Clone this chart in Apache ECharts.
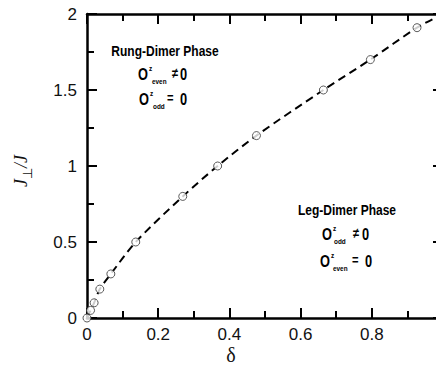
<!DOCTYPE html>
<html>
<head>
<meta charset="utf-8">
<script src="https://cdn.jsdelivr.net/npm/echarts@6/dist/echarts.min.js"></script>
<style>
html,body{margin:0;padding:0;overflow:hidden;background:#fff;width:436px;height:371px;}
#c{width:460px;height:371px;}
</style>
</head>
<body>
<div id="c"></div>
<script>
// data
var deltaValues = [0, 0.01, 0.02, 0.036, 0.067, 0.137, 0.269, 0.367, 0.476, 0.664, 0.796, 0.927];
var jRatioValues = [0, 0.05, 0.1, 0.19, 0.29, 0.5, 0.8, 1.0, 1.2, 1.5, 1.7, 1.91];
// dashed fit curve (through the points, extended to the right edge)
var fitDelta = [0, 0.01, 0.02, 0.036, 0.067, 0.137, 0.269, 0.367, 0.476, 0.664, 0.796, 0.927, 1.0];
var fitJ = [0, 0.05, 0.1, 0.19, 0.29, 0.5, 0.8, 1.0, 1.2, 1.5, 1.7, 1.91, 2.0];
var xTicks = [0, 0.2, 0.4, 0.6, 0.8, 1.0];
var yTicks = [0, 0.5, 1, 1.5, 2];

var pts = deltaValues.map(function(d,i){return [d, jRatioValues[i]];});
var fit = fitDelta.map(function(d,i){return [d, fitJ[i]];});

var axisFont = {fontFamily:'Liberation Sans', fontSize:17, color:'#111'};
var bold = 'Liberation Sans';
var SX = 0.8;

function baseX(pos, labels){
  return {
    type:'value', position:pos, min:xTicks[0], max:xTicks[xTicks.length-1], interval:0.2,
    axisLine:{show:true, onZero:false, lineStyle:{color:'#000', width:2.5}},
    axisTick:{show:true, inside:true, length:10, lineStyle:{color:'#000', width:2}},
    minorTick:{show:true, splitNumber:2, length:7, lineStyle:{color:'#000', width:2}},
    splitLine:{show:false},
    axisLabel:labels ? Object.assign({show:true, margin:8, formatter:function(v){return v>=1?'':String(v);}}, axisFont) : {show:false}
  };
}
function baseY(pos, labels){
  return {
    type:'value', position:pos, min:yTicks[0], max:yTicks[yTicks.length-1], interval:0.5,
    axisLine:{show:true, onZero:false, lineStyle:{color:'#000', width:2.5}},
    axisTick:{show:true, inside:true, length:10, lineStyle:{color:'#000', width:2}},
    minorTick:{show:true, splitNumber:2, length:7, lineStyle:{color:'#000', width:2}},
    splitLine:{show:false},
    axisLabel:labels ? Object.assign({show:true, margin:10}, axisFont) : {show:false}
  };
}

function t(x, y, text, font, align){
  return {type:'text', x:x, y:y, scaleX:SX, style:{text:text, font:font, fill:'#000', align:align||'left', verticalAlign:'middle'}};
}
function phaseLabel(x, y, sub, op, subX, opX, zeroX){
  return {type:'group', x:x, y:y, children:[
    t(0, 0, 'O', 'bold 16px '+bold),
    t(11, -6, 'z', 'bold 8px '+bold),
    t(subX, 7, sub, 'bold 8px '+bold),
    t(opX, 0, op, 'bold 14px '+bold),
    t(zeroX, 0, '0', 'bold 16px '+bold)
  ]};
}

var chart = echarts.init(document.getElementById('c'), null, {renderer:'svg'});
chart.setOption({
  animation:false,
  backgroundColor:'#fff',
  grid:{left:87, top:14, right:17, bottom:53},
  xAxis:[baseX('bottom', true), baseX('top', false)],
  yAxis:[baseY('left', true), baseY('right', false)],
  series:[
    {type:'line', data:fit, smooth:0.3, symbol:'none', z:2,
     lineStyle:{color:'#000', width:2, type:[8,5]}},
    {type:'scatter', data:pts, symbol:'circle', symbolSize:8, z:3,
     itemStyle:{color:'#fff', borderColor:'#333', borderWidth:1}}
  ],
  graphic:[
    {type:'text', x:165, y:51, scaleX:SX, style:{text:'Rung-Dimer Phase', font:'bold 15px '+bold, fill:'#000', align:'center', verticalAlign:'middle'}},
    phaseLabel(138, 74, 'even', '\u2260', 14, 34, 42),
    phaseLabel(139, 99, 'odd', '=', 14, 28, 41),
    {type:'text', x:347, y:210, scaleX:SX, style:{text:'Leg-Dimer Phase', font:'bold 15px '+bold, fill:'#000', align:'center', verticalAlign:'middle'}},
    phaseLabel(322, 234, 'odd', '\u2260', 12, 31, 40),
    phaseLabel(320, 261, 'even', '=', 13, 32, 45),
    {type:'text', x:231, y:355, style:{text:'\u03b4', font:'20px Liberation Serif', fill:'#111', align:'center', verticalAlign:'middle'}},
    {type:'group', x:21, y:167, rotation:Math.PI/2, children:[
      {type:'text', x:-20, y:0, style:{text:'J', font:'italic 18px Liberation Serif', fill:'#111', verticalAlign:'middle'}},
      {type:'text', x:-12, y:6, style:{text:'\u22a5', font:'13px Liberation Serif', fill:'#111', verticalAlign:'middle'}},
      {type:'text', x:-1, y:0, style:{text:'/J', font:'italic 18px Liberation Serif', fill:'#111', verticalAlign:'middle'}}
    ]}
  ]
});
</script>
</body>
</html>
